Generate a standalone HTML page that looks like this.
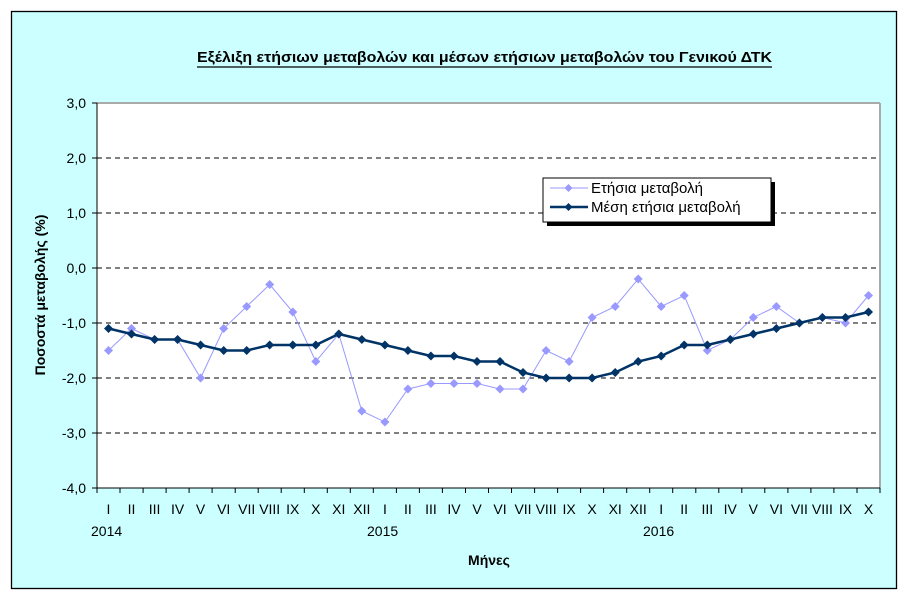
<!DOCTYPE html>
<html><head><meta charset="utf-8"><style>body{margin:0;background:#fff}svg{display:block}text{font-family:"Liberation Sans",Arial,sans-serif}</style></head>
<body>
<svg width="918" height="610" viewBox="0 0 918 610" xmlns="http://www.w3.org/2000/svg">
<defs>
<marker id="ml" markerUnits="userSpaceOnUse" markerWidth="10" markerHeight="10" refX="5" refY="5" viewBox="0 0 10 10"><path d="M5 0.5L9.5 5L5 9.5L0.5 5Z" fill="#9999FF"/></marker>
<marker id="md" markerUnits="userSpaceOnUse" markerWidth="10" markerHeight="10" refX="5" refY="5" viewBox="0 0 10 10"><path d="M5 0.5L9.5 5L5 9.5L0.5 5Z" fill="#003366"/></marker>
</defs>
<rect x="11.5" y="11.5" width="885" height="577" fill="#CCFFFF" stroke="#000" stroke-width="1.3"/>
<text x="197" y="62" font-size="15" font-weight="bold" textLength="575" lengthAdjust="spacingAndGlyphs" fill="#000">Εξέλιξη ετήσιων μεταβολών και μέσων ετήσιων μεταβολών του Γενικού ΔΤΚ</text>
<line x1="197" y1="67" x2="772" y2="67" stroke="#000" stroke-width="1.2"/>
<rect x="97" y="103" width="783" height="385" fill="#fff"/>
<line x1="97" y1="103" x2="880" y2="103" stroke="#aaa" stroke-width="2"/>
<line x1="880" y1="103" x2="880" y2="488" stroke="#aaa" stroke-width="2"/>
<g stroke="#000" stroke-dasharray="5,4" stroke-width="1">
<line x1="97" y1="158" x2="880" y2="158"/><line x1="97" y1="213" x2="880" y2="213"/><line x1="97" y1="268" x2="880" y2="268"/><line x1="97" y1="323" x2="880" y2="323"/><line x1="97" y1="378" x2="880" y2="378"/><line x1="97" y1="433" x2="880" y2="433"/>
</g>
<g stroke="#000" stroke-width="1">
<line x1="97" y1="103" x2="97" y2="488"/><line x1="97" y1="488" x2="880" y2="488"/>
<line x1="92" y1="103" x2="97" y2="103"/><line x1="92" y1="158" x2="97" y2="158"/><line x1="92" y1="213" x2="97" y2="213"/><line x1="92" y1="268" x2="97" y2="268"/><line x1="92" y1="323" x2="97" y2="323"/><line x1="92" y1="378" x2="97" y2="378"/><line x1="92" y1="433" x2="97" y2="433"/><line x1="92" y1="488" x2="97" y2="488"/>
</g>
<path stroke="#000" stroke-width="1" d="M97 488v5M120 488v5M143.1 488v5M166.1 488v5M189.1 488v5M212.1 488v5M235.2 488v5M258.2 488v5M281.2 488v5M304.3 488v5M327.3 488v5M350.3 488v5M373.3 488v5M396.4 488v5M419.4 488v5M442.4 488v5M465.5 488v5M488.5 488v5M511.5 488v5M534.6 488v5M557.6 488v5M580.6 488v5M603.6 488v5M626.7 488v5M649.7 488v5M672.7 488v5M695.8 488v5M718.8 488v5M741.8 488v5M764.8 488v5M787.9 488v5M810.9 488v5M833.9 488v5M857 488v5M880 488v5"/>
<g font-size="14" text-anchor="end" fill="#000">
<text x="86" y="108">3,0</text><text x="86" y="163">2,0</text><text x="86" y="218">1,0</text><text x="86" y="273">0,0</text><text x="86" y="328">-1,0</text><text x="86" y="383">-2,0</text><text x="86" y="438">-3,0</text><text x="86" y="493">-4,0</text>
</g>
<g font-size="14" text-anchor="middle" fill="#000">
<text x="108.5" y="514">I</text><text x="131.5" y="514">II</text><text x="154.6" y="514">III</text><text x="177.6" y="514">IV</text><text x="200.6" y="514">V</text><text x="223.7" y="514">VI</text><text x="246.7" y="514">VII</text><text x="269.7" y="514">VIII</text><text x="292.8" y="514">IX</text><text x="315.8" y="514">X</text><text x="338.8" y="514">XI</text><text x="361.8" y="514">XII</text>
<text x="384.9" y="514">I</text><text x="407.9" y="514">II</text><text x="430.9" y="514">III</text><text x="454" y="514">IV</text><text x="477" y="514">V</text><text x="500" y="514">VI</text><text x="523" y="514">VII</text><text x="546.1" y="514">VIII</text><text x="569.1" y="514">IX</text><text x="592.1" y="514">X</text><text x="615.2" y="514">XI</text><text x="638.2" y="514">XII</text>
<text x="661.2" y="514">I</text><text x="684.2" y="514">II</text><text x="707.3" y="514">III</text><text x="730.3" y="514">IV</text><text x="753.3" y="514">V</text><text x="776.4" y="514">VI</text><text x="799.4" y="514">VII</text><text x="822.4" y="514">VIII</text><text x="845.5" y="514">IX</text><text x="868.5" y="514">X</text>
</g>
<text transform="translate(45,295) rotate(-90)" font-size="14" font-weight="bold" text-anchor="middle">Ποσοστά μεταβολής (%)</text>
<text x="489" y="565" font-size="14" font-weight="bold" text-anchor="middle">Μήνες</text>
<g font-size="14"><text x="91" y="536">2014</text><text x="367" y="536">2015</text><text x="643" y="536">2016</text></g>
<polyline fill="none" stroke="#9999FF" stroke-width="1" marker-start="url(#ml)" marker-mid="url(#ml)" marker-end="url(#ml)" points="108.5,350.5 131.5,328.5 154.6,339.5 177.6,339.5 200.6,378 223.7,328.5 246.7,306.5 269.7,284.5 292.8,312 315.8,361.5 338.8,334 361.8,411 384.9,422 407.9,389 430.9,383.5 454,383.5 477,383.5 500,389 523,389 546.1,350.5 569.1,361.5 592.1,317.5 615.2,306.5 638.2,279 661.2,306.5 684.2,295.5 707.3,350.5 730.3,339.5 753.3,317.5 776.4,306.5 799.4,323 822.4,317.5 845.5,323 868.5,295.5"/>
<polyline fill="none" stroke="#003366" stroke-width="2.5" marker-start="url(#md)" marker-mid="url(#md)" marker-end="url(#md)" points="108.5,328.5 131.5,334 154.6,339.5 177.6,339.5 200.6,345 223.7,350.5 246.7,350.5 269.7,345 292.8,345 315.8,345 338.8,334 361.8,339.5 384.9,345 407.9,350.5 430.9,356 454,356 477,361.5 500,361.5 523,372.5 546.1,378 569.1,378 592.1,378 615.2,372.5 638.2,361.5 661.2,356 684.2,345 707.3,345 730.3,339.5 753.3,334 776.4,328.5 799.4,323 822.4,317.5 845.5,317.5 868.5,312"/>
<rect x="547" y="182" width="228" height="44" fill="#000"/>
<rect x="543" y="178" width="228" height="44" fill="#fff" stroke="#000"/>
<line x1="550" y1="188" x2="588" y2="188" stroke="#9999FF" stroke-width="1"/>
<path d="M568.5 184L572.5 188L568.5 192L564.5 188Z" fill="#9999FF"/>
<text x="591" y="193" font-size="15">Ετήσια μεταβολή</text>
<line x1="550" y1="207" x2="588" y2="207" stroke="#003366" stroke-width="2.5"/>
<path d="M568.5 203L572.5 207L568.5 211L564.5 207Z" fill="#003366"/>
<text x="591" y="212" font-size="15">Μέση ετήσια μεταβολή</text>
</svg>
</body></html>
